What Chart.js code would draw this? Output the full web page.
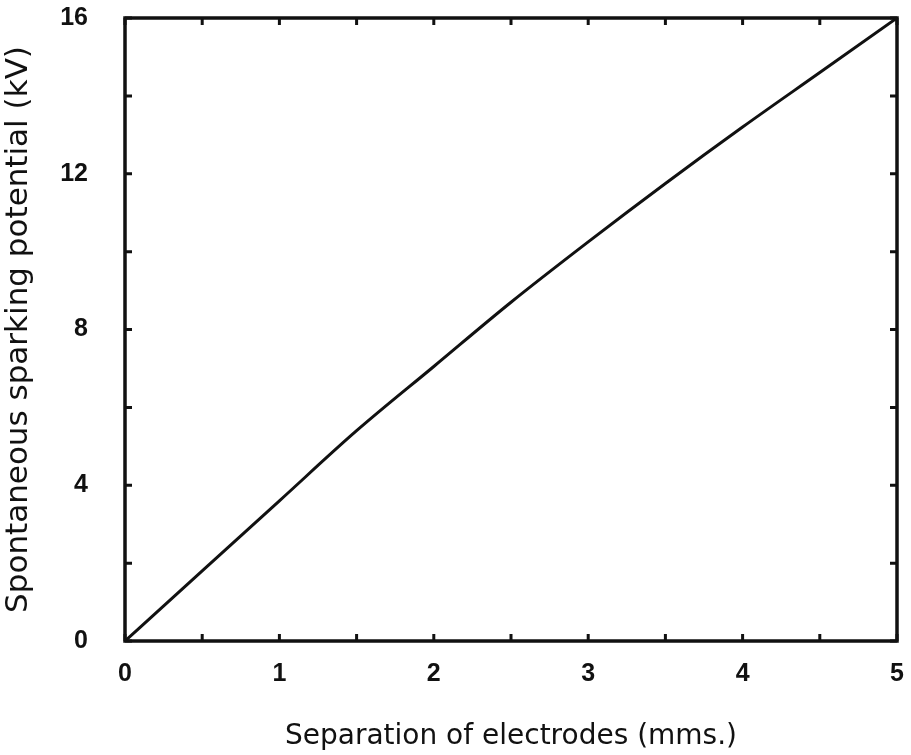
<!DOCTYPE html>
<html>
<head>
<meta charset="utf-8">
<script src="https://cdn.jsdelivr.net/npm/chart.js@4.4.1/dist/chart.umd.min.js"></script>
<style>
  html, body { margin: 0; padding: 0; background: #fff; }
  #wrap { width: 911px; height: 755px; }
</style>
</head>
<body>
<div id="wrap"><canvas id="chart" width="911" height="755"></canvas></div>
<script>
// separation of electrodes (mm) and sparking potential (kV)
const separation = [0, 0.5, 1, 1.5, 2, 2.5, 3, 3.5, 4, 4.5, 5];
const potential = [0, 1.8, 3.6, 5.4, 7.05, 8.7, 10.25, 11.75, 13.2, 14.6, 16];
const xTickLabels = ['0', '1', '2', '3', '4', '5'];
const yTickLabels = ['0', '4', '8', '12', '16'];

const ink = '#111';
const font = "'DejaVu Sans', sans-serif";
const tickFont = "'Liberation Sans', sans-serif";

// frame round the plot plus small ticks pointing inwards on all four sides
const frameTicks = {
    id: 'frameTicks',
    afterDraw(chart) {
        const ctx = chart.ctx;
        const a = chart.chartArea;
        const xs = chart.scales.x;
        const ys = chart.scales.y;
        const len = 7;
        ctx.save();
        ctx.strokeStyle = ink;
        ctx.lineWidth = 3;
        ctx.beginPath();
        for (const t of xs.ticks) {
            const px = xs.getPixelForValue(t.value);
            ctx.moveTo(px, a.bottom);
            ctx.lineTo(px, a.bottom - len);
            ctx.moveTo(px, a.top);
            ctx.lineTo(px, a.top + len);
        }
        for (const t of ys.ticks) {
            const py = ys.getPixelForValue(t.value);
            ctx.moveTo(a.left, py);
            ctx.lineTo(a.left + len, py);
            ctx.moveTo(a.right, py);
            ctx.lineTo(a.right - len, py);
        }
        ctx.stroke();
        ctx.lineWidth = 3.5;
        ctx.strokeRect(a.left, a.top, a.right - a.left, a.bottom - a.top);
        ctx.restore();
    }
};

const data = {
    datasets: [{
        data: separation.map((x, i) => ({ x: x, y: potential[i] })),
        borderColor: ink,
        borderWidth: 3,
        pointRadius: 0,
        tension: 0.4,
        cubicInterpolationMode: 'monotone',
        fill: false
    }]
};

const config = {
    type: 'line',
    data: data,
    options: {
        responsive: false,
        animation: false,
        layout: { padding: { left: 0, right: 14, top: 18, bottom: 0 } },
        plugins: {
            legend: { display: false },
            tooltip: { enabled: false }
        },
        scales: {
            x: {
                type: 'linear',
                min: 0,
                max: 5,
                // grid hidden, tickLength only used to push labels down
                grid: { display: false, tickLength: 18 },
                border: { display: false },
                ticks: {
                    stepSize: 0.5,
                    autoSkip: false,
                    maxRotation: 0,
                    padding: 0,
                    color: ink,
                    font: { family: tickFont, size: 25, weight: 'bold' },
                    callback: (v) => xTickLabels.includes(String(v)) ? String(v) : ''
                },
                title: {
                    display: true,
                    text: 'Separation of electrodes (mms.)',
                    color: ink,
                    font: { family: font, size: 28 },
                    padding: { top: 0, bottom: 1 }
                },
                afterFit: (s) => { s.height = 114; }
            },
            y: {
                type: 'linear',
                min: 0,
                max: 16,
                grid: { display: false, tickLength: 37 },
                border: { display: false },
                ticks: {
                    stepSize: 2,
                    autoSkip: false,
                    padding: 0,
                    color: ink,
                    font: { family: tickFont, size: 25, weight: 'bold' },
                    callback: (v) => yTickLabels.includes(String(v)) ? String(v) : ''
                },
                title: {
                    display: true,
                    text: 'Spontaneous sparking potential (kV)',
                    color: ink,
                    font: { family: font, size: 31 },
                    padding: { top: 0, bottom: 0 }
                },
                afterFit: (s) => { s.width = 125; }
            }
        }
    },
    plugins: [frameTicks]
};

new Chart(document.getElementById('chart').getContext('2d'), config);
</script>
</body>
</html>
